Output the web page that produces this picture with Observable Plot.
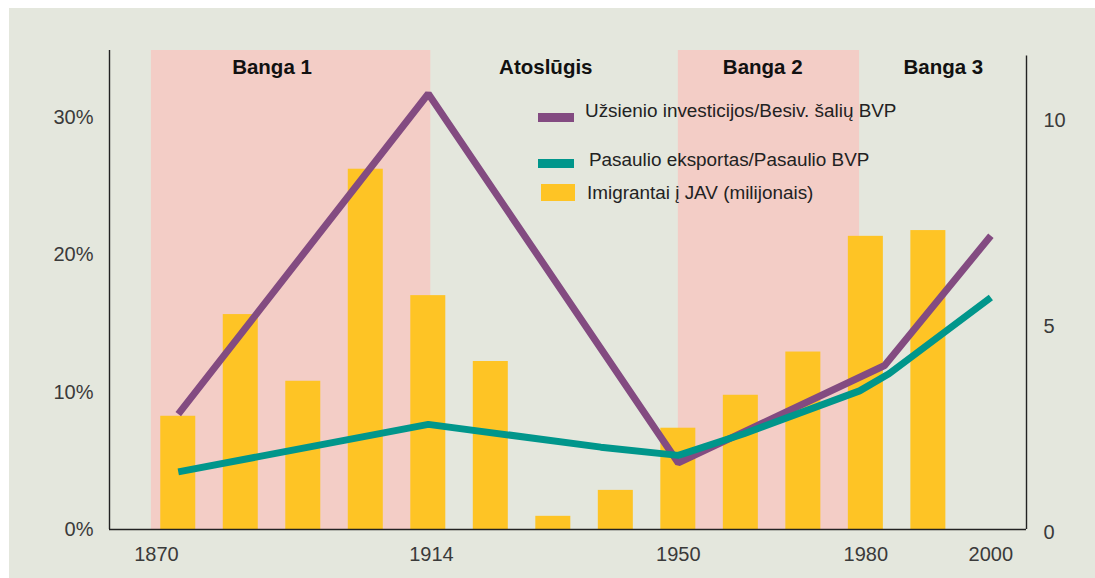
<!DOCTYPE html>
<html>
<head>
<meta charset="utf-8">
<script src="https://cdn.jsdelivr.net/npm/d3@7"></script>
<script src="https://cdn.jsdelivr.net/npm/@observablehq/plot@0.6"></script>
<style>
  html, body { margin: 0; padding: 0; background: #ffffff; }
  body { width: 1095px; height: 578px; position: relative; overflow: hidden; font-family: "Liberation Sans", Arial, sans-serif; }
  #panel { position: absolute; left: 9px; top: 8px; width: 1086px; height: 570px; background: #e4e7dd; }
  #chart { position: absolute; left: 0; top: 0; }
  .legend { position: absolute; font-size: 18.9px; color: #222; white-space: nowrap; }
  .sw { position: absolute; }
</style>
</head>
<body>
<div id="panel"><div id="chart"></div></div>
<div id="legend"></div>
<script>
// ---- data ----
const decades = [1870, 1880, 1890, 1900, 1910, 1920, 1930, 1940, 1950, 1960, 1970, 1980, 1990];
const immigrantsMillions = [2.75, 5.22, 3.60, 8.75, 5.68, 4.08, 0.32, 0.95, 2.46, 3.26, 4.31, 7.12, 7.26];

const investYears = [1870, 1910, 1950, 1983, 2000];
const investPct   = [8.4, 31.75, 4.85, 11.95, 21.4];

const exportYears = [1870, 1910, 1937.6, 1950, 1960.5, 1979, 1983.7, 2000];
const exportPct   = [4.2, 7.66, 6.0, 5.4, 6.98, 10.1, 11.35, 16.9];

const tickAt     = [1866.5, 1910.5, 1950, 1980, 2000];
const tickLabels = ["1870", "1914", "1950", "1980", "2000"];

const eraNames = ["Banga 1", "Atoslūgis", "Banga 2", "Banga 3"];
const eraLabelAt = [1885, 1928.8, 1963.5, 1992.4];
const shadedFrom = [1865.7, 1950];
const shadedTo   = [1910.4, 1979];

const leftTicks  = [0, 10, 20, 30];
const rightTicks = [0, 5, 10];           // millions
const pctPerMillion = 3;                 // 10 million ↔ 30 %

const legendLabels = ["Užsienio investicijos/Besiv. šalių BVP", "Pasaulio eksportas/Pasaulio BVP", "Imigrantai į JAV (milijonais)"];

// ---- tables ----
const bars = decades.map((d, i) => ({decade: d, m: immigrantsMillions[i]}));
const invest = investYears.map((x, i) => ({x, y: investPct[i]}));
const exportsS = exportYears.map((x, i) => ({x, y: exportPct[i]}));
const eras = eraNames.map((name, i) => ({name, x: eraLabelAt[i]}));
const shaded = shadedFrom.map((f, i) => ({from: f, to: shadedTo[i]}));
const tickMap = new Map(tickAt.map((t, i) => [t, tickLabels[i]]));

const X0 = 1859, X1 = 2005.7, YTOP = 34.9;
const colors = {purple: "#834b81", teal: "#00968b", yellow: "#fec425", pink: "#f3cdc6"};

const chart = Plot.plot({
  width: 1086,
  height: 570,
  marginLeft: 100,
  marginRight: 69,
  marginTop: 42,
  marginBottom: 49,
  style: {background: "transparent", fontFamily: "'Liberation Sans', Arial, sans-serif", fontSize: "20px", color: "#3a3a3a", overflow: "visible"},
  x: {domain: [X0, X1], label: null},
  y: {domain: [0, YTOP], label: null},
  marks: [
    Plot.rect(shaded, {x1: "from", x2: "to", y1: 0, y2: YTOP, fill: colors.pink}),
    Plot.rectY(bars, {x1: d => d.decade - 2.8, x2: d => d.decade + 2.8, y1: 0, y2: d => d.m * pctPerMillion, fill: colors.yellow}),
    Plot.line(invest, {x: "x", y: "y", stroke: colors.purple, strokeWidth: 7, strokeLinejoin: "miter", strokeLinecap: "butt"}),
    Plot.line(exportsS, {x: "x", y: "y", stroke: colors.teal, strokeWidth: 7, strokeLinejoin: "miter", strokeLinecap: "butt"}),
    Plot.ruleX([X0], {y1: 0, y2: YTOP, stroke: "#222", strokeWidth: 1.4}),
    Plot.ruleX([X1], {y1: 0, y2: 34.5, stroke: "#222", strokeWidth: 1.4}),
    Plot.ruleY([0], {x1: X0, x2: X1, stroke: "#222", strokeWidth: 1.4}),
    Plot.axisY({ticks: leftTicks, tickFormat: d => d + "%", tickSize: 0, tickPadding: 16, fill: "#3a3a3a", label: null}),
    Plot.axisY({anchor: "right", ticks: rightTicks.map(v => v * pctPerMillion), tickFormat: d => String(Math.round(d / pctPerMillion)), tickSize: 0, tickPadding: 17, dy: 3, fill: "#3a3a3a", label: null}),
    Plot.axisX({ticks: tickAt, tickFormat: d => tickMap.get(d), tickSize: 0, tickPadding: 17, fill: "#3a3a3a", label: null}),
    Plot.text(eras, {x: "x", text: "name", frameAnchor: "top", lineAnchor: "middle", dy: 17, fontSize: 20.5, fontWeight: "bold", fill: "#111"})
  ]
});
document.getElementById("chart").appendChild(chart);

// ---- legend (inside plot area) ----
const legend = document.getElementById("legend");
const legendItems = [
  {label: legendLabels[0], color: colors.purple, sw: {left: 538, top: 113, w: 36, h: 9}, text: {left: 585, top: 111}},
  {label: legendLabels[1], color: colors.teal,   sw: {left: 538, top: 159, w: 36, h: 9}, text: {left: 589, top: 160}},
  {label: legendLabels[2], color: colors.yellow, sw: {left: 541, top: 184, w: 34, h: 17}, text: {left: 587, top: 193}}
];
legendItems.forEach(it => {
  const s = document.createElement("div");
  s.className = "sw";
  Object.assign(s.style, {left: it.sw.left + "px", top: it.sw.top + "px", width: it.sw.w + "px", height: it.sw.h + "px", background: it.color});
  legend.appendChild(s);
  const t = document.createElement("div");
  t.className = "legend";
  t.textContent = it.label;
  Object.assign(t.style, {left: it.text.left + "px", top: (it.text.top - 11) + "px", lineHeight: "22px"});
  legend.appendChild(t);
});
</script>
</body>
</html>
